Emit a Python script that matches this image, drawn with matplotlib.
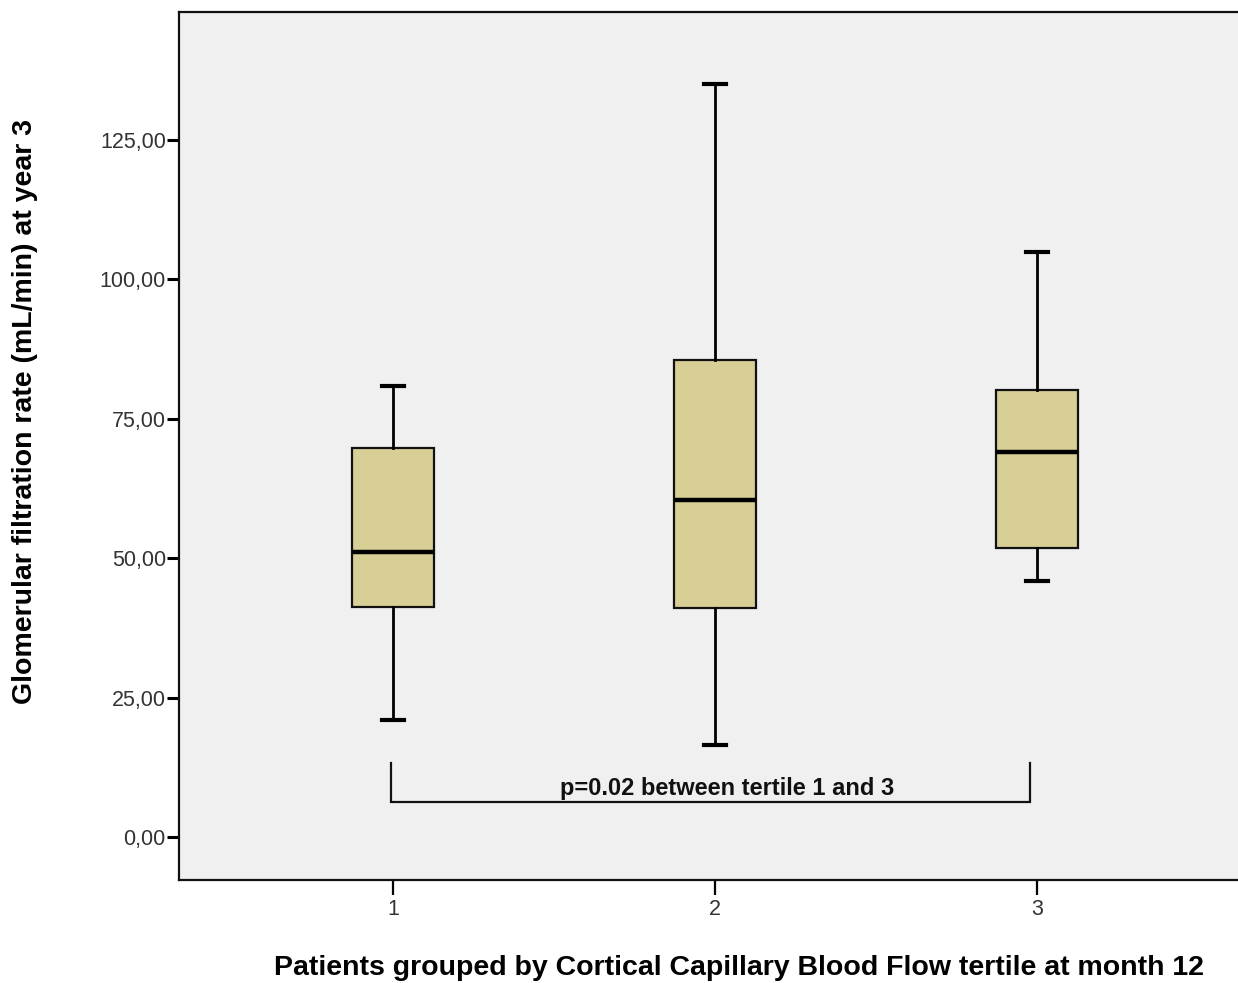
import matplotlib
matplotlib.use("Agg")
import matplotlib.pyplot as plt

plt.rcParams["font.family"] = ["Liberation Sans", "DejaVu Sans"]

groups = ["1", "2", "3"]
whisker_low = [21.0, 16.5, 45.9]
q1 = [41.2, 41.1, 51.8]
median = [51.1, 60.4, 69.0]
q3 = [69.8, 85.5, 80.2]
whisker_high = [80.8, 135.0, 104.9]
y_ticks = [0, 25, 50, 75, 100, 125]
y_tick_labels = ["0,00", "25,00", "50,00", "75,00", "100,00", "125,00"]
bracket_groups = [1, 3]
bracket_y = [6.2, 13.3]
p_text = "p=0.02 between tertile 1 and 3"


def build_stats():
    stats = []
    for i in range(len(groups)):
        stats.append({
            "label": groups[i],
            "whislo": whisker_low[i],
            "q1": q1[i],
            "med": median[i],
            "q3": q3[i],
            "whishi": whisker_high[i],
            "fliers": [],
        })
    return stats


def main():
    fig = plt.figure(figsize=(12.38, 9.83), dpi=100)
    fig.patch.set_facecolor("white")
    ax = fig.add_axes([179 / 1238, 103 / 983, 1072 / 1238, 868 / 983])
    ax.set_facecolor("#eff0ef")

    positions = [1, 2, 3]
    ax.bxp(build_stats(), positions=positions, widths=0.255, patch_artist=True,
           showfliers=False,
           boxprops=dict(facecolor="#d8cf97", edgecolor="#111111", linewidth=1.6),
           medianprops=dict(color="black", linewidth=3.2),
           whiskerprops=dict(color="black", linewidth=2.0),
           capprops=dict(color="black", linewidth=3.0),
           capwidths=0.068)

    # bracket for significance
    x0, x1 = bracket_groups[0] - 0.005, bracket_groups[1] - 0.02
    ax.plot([x0, x0, x1, x1], [bracket_y[1], bracket_y[0], bracket_y[0], bracket_y[1]],
            color="#111111", linewidth=1.6, solid_joinstyle="miter")
    ax.text((x0 + x1) / 2 + 0.05, 8.7, p_text, ha="center", va="center",
            fontsize=17, fontweight="bold", color="#111111")

    ax.set_xlim(0.335, 3.665)
    ax.set_ylim(-7.7, 147.9)
    ax.set_xticks(positions)
    ax.set_xticklabels(groups)
    ax.set_yticks(y_ticks)
    ax.set_yticklabels(y_tick_labels)
    ax.tick_params(axis="y", direction="out", length=8.5, width=2.2, labelsize=15.5,
                   labelcolor="#333333", pad=1)
    ax.tick_params(axis="x", direction="out", length=10.5, width=1.6, labelsize=15.5,
                   labelcolor="#333333", pad=3)
    for side in ["left", "bottom", "top", "right"]:
        ax.spines[side].set_linewidth(1.6)
        ax.spines[side].set_color("#111111")

    fig.text(25 / 1238, 1 - 411 / 983, "Glomerular filtration rate (mL/min) at year 3",
             rotation=90, ha="center", va="center", fontsize=20.5, fontweight="bold")
    fig.text(739 / 1238, 1 - 968 / 983,
             "Patients grouped by Cortical Capillary Blood Flow tertile at month 12",
             ha="center", va="center", fontsize=20.5, fontweight="bold")

    fig.savefig("out.png", dpi=100)


if __name__ == '__main__':
    main()
